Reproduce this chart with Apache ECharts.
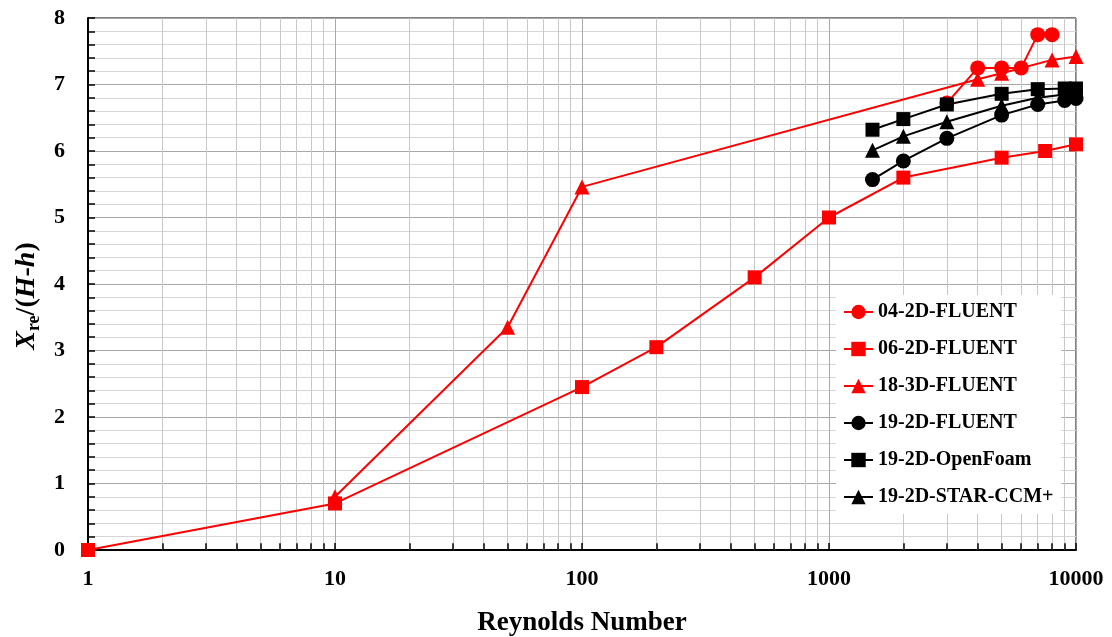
<!DOCTYPE html>
<html>
<head>
<meta charset="utf-8">
<script src="https://cdn.jsdelivr.net/npm/echarts@6/dist/echarts.min.js"></script>
<style>
  html, body { margin: 0; padding: 0; background: #fff; }
  #chart { width: 1112px; height: 637px; }
</style>
</head>
<body>
<div id="chart"></div>
<script>
  // Reynolds number / reattachment length data
  const fluent04Re = [3000, 4000, 5000, 6000, 7000, 8000]
  const fluent04Y = [6.72, 7.25, 7.25, 7.25, 7.75, 7.75]

  const fluent06Re = [1, 10, 100, 200, 500, 1000, 2000, 5000, 7500, 10000]
  const fluent06Y = [0, 0.7, 2.45, 3.05, 4.1, 5.0, 5.6, 5.9, 6.0, 6.1]

  const fluent18Re = [10, 50, 100, 4000, 5000, 8000, 10000]
  const fluent18Y = [0.8, 3.35, 5.46, 7.08, 7.17, 7.37, 7.42]

  const fluent19Re = [1500, 2000, 3000, 5000, 7000, 9000, 10000]
  const fluent19Y = [5.57, 5.85, 6.19, 6.54, 6.7, 6.76, 6.79]

  const openFoamRe = [1500, 2000, 3000, 5000, 7000, 9000, 10000]
  const openFoamY = [6.32, 6.48, 6.7, 6.86, 6.93, 6.94, 6.94]

  const starRe = [1500, 2000, 3000, 5000, 7000, 9000, 10000]
  const starY = [6.01, 6.22, 6.44, 6.68, 6.8, 6.85, 6.87]

  // minor log ticks (2..9 in every decade)
  const minorRe = [2, 3, 4, 5, 6, 7, 8, 9,
    20, 30, 40, 50, 60, 70, 80, 90,
    200, 300, 400, 500, 600, 700, 800, 900,
    2000, 3000, 4000, 5000, 6000, 7000, 8000, 9000]

  const legendNames = ['04-2D-FLUENT', '06-2D-FLUENT', '18-3D-FLUENT', '19-2D-FLUENT', '19-2D-OpenFoam', '19-2D-STAR-CCM+']

  const font = '"Liberation Serif", "Times New Roman", serif'

  function pairs(xs, ys) {
    return xs.map((x, i) => [x, ys[i]])
  }

  function makeSeries(name, xs, ys, color, symbol, size) {
    return {
      name: name,
      type: 'line',
      z: 3,
      data: pairs(xs, ys),
      symbol: symbol,
      symbolSize: size,
      showSymbol: true,
      lineStyle: { color: color, width: 2 },
      itemStyle: { color: color, borderWidth: 0 },
      emphasis: { disabled: true }
    }
  }

  // log axis minor grid lines and ticks, placed through the axis scale
  const minorGrid = {
    name: 'minorGrid',
    type: 'line',
    data: [],
    silent: true,
    z: 1,
    markLine: {
      silent: true,
      z: 1,
      symbol: ['none', 'none'],
      label: { show: false },
      lineStyle: { color: '#c8c8c8', width: 1, type: 'solid' },
      emphasis: { disabled: true },
      data: minorRe.map(v => ({ xAxis: v }))
    }
  }
  const minorTicks = {
    name: 'minorTicks',
    type: 'line',
    data: [],
    silent: true,
    z: 1,
    markLine: {
      silent: true,
      z: 1,
      symbol: ['none', 'none'],
      label: { show: false },
      lineStyle: { color: '#000', width: 1.5, type: 'solid' },
      emphasis: { disabled: true },
      data: minorRe.map(v => [{ coord: [v, 0] }, { coord: [v, 0.1] }])
    }
  }

  const chart = echarts.init(document.getElementById('chart'))
  chart.setOption({
    animation: false,
    grid: {
      left: 88,
      right: 36,
      top: 18,
      bottom: 87,
      outerBoundsMode: 'none',
      containLabel: false,
      show: true,
      borderColor: '#000',
      borderWidth: 1
    },
    legend: {
      orient: 'vertical',
      left: 836,
      top: 295,
      z: 10,
      padding: [7, 8, 7, 7],
      backgroundColor: '#fff',
      itemWidth: 29,
      itemHeight: 18,
      itemGap: 17,
      textStyle: { fontFamily: font, fontWeight: 'bold', fontSize: 20, color: '#000' },
      data: legendNames
    },
    xAxis: {
      type: 'log',
      logBase: 10,
      min: 1,
      max: 10000,
      name: 'Reynolds Number',
      nameLocation: 'middle',
      nameGap: 60,
      nameTextStyle: { fontFamily: font, fontWeight: 'bold', fontSize: 27, color: '#000' },
      axisLine: { lineStyle: { color: '#000', width: 2 } },
      axisTick: { show: true, inside: true, length: 7, lineStyle: { color: '#000', width: 1.5 } },
      axisLabel: {
        fontFamily: font, fontWeight: 'bold', fontSize: 22, color: '#000', margin: 18,
        formatter: v => String(v)
      },
      splitLine: { show: true, lineStyle: { color: '#a8a8a8', width: 1 } }
    },
    yAxis: {
      type: 'value',
      min: 0,
      max: 8,
      interval: 1,
      name: '{i|X}{s|re}{n|/(}{i|H}{n|-}{i|h}{n|)}',
      nameLocation: 'middle',
      nameRotate: 90,
      nameGap: 42,
      nameTextStyle: {
        padding: [0, 24, 0, 0],
        rich: {
          i: { fontFamily: font, fontWeight: 'bold', fontStyle: 'italic', fontSize: 28, color: '#000' },
          n: { fontFamily: font, fontWeight: 'bold', fontSize: 28, color: '#000' },
          s: { fontFamily: font, fontWeight: 'bold', fontSize: 18, color: '#000', verticalAlign: 'bottom', padding: [14, 0, 0, 0] }
        }
      },
      axisLine: { show: true, lineStyle: { color: '#000', width: 2 } },
      axisTick: { show: true, inside: true, length: 7, lineStyle: { color: '#000', width: 1.5 } },
      minorTick: { show: true, splitNumber: 5, length: 7, lineStyle: { color: '#000', width: 1.5 } },
      axisLabel: { fontFamily: font, fontWeight: 'bold', fontSize: 22, color: '#000', margin: 23 },
      splitLine: { show: true, lineStyle: { color: '#a8a8a8', width: 1 } },
      minorSplitLine: { show: true, lineStyle: { color: '#d6d6d6', width: 1 } }
    },
    series: [
      minorGrid,
      minorTicks,
      makeSeries('04-2D-FLUENT', fluent04Re, fluent04Y, '#ff0000', 'circle', 15),
      makeSeries('06-2D-FLUENT', fluent06Re, fluent06Y, '#ff0000', 'rect', 14),
      makeSeries('18-3D-FLUENT', fluent18Re, fluent18Y, '#ff0000', 'triangle', 15),
      makeSeries('19-2D-FLUENT', fluent19Re, fluent19Y, '#000000', 'circle', 15),
      makeSeries('19-2D-OpenFoam', openFoamRe, openFoamY, '#000000', 'rect', 14),
      makeSeries('19-2D-STAR-CCM+', starRe, starY, '#000000', 'triangle', 15)
    ]
  })
</script>
</body>
</html>
